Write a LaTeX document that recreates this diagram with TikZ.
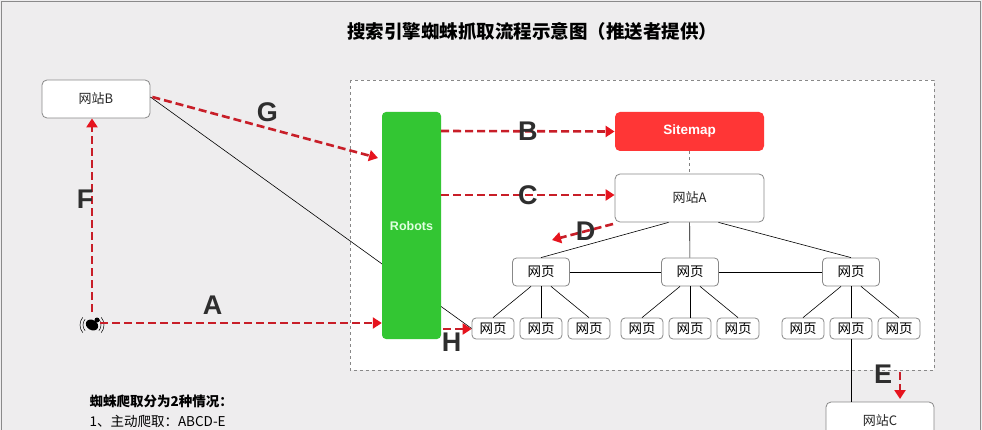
\documentclass[tikz,border=0pt]{standalone}
\usepackage{fontspec}
\setmainfont{Liberation Sans}
\newfontfamily\cjk{Noto Sans CJK SC}
\usepackage{tikz}
\usetikzlibrary{arrows.meta,positioning}

\definecolor{bg}{HTML}{EEEDEE}
\definecolor{frame}{HTML}{8A8A8A}
\definecolor{boxline}{HTML}{888888}
\definecolor{robotgreen}{HTML}{33C633}
\definecolor{mapred}{HTML}{FF3636}
\definecolor{crawlred}{HTML}{C81E28}
\definecolor{tipred}{HTML}{E6141E}
\definecolor{letter}{HTML}{2E2E2E}

\tikzset{
  site/.style={draw=boxline, line width=0.8pt, fill=white, rounded corners=5pt, inner sep=0pt,
    font=\cjk\fontsize{13}{13}\selectfont, text=black!85},
  page/.style={draw=boxline, line width=0.8pt, fill=white, rounded corners=4pt, inner sep=0pt,
    minimum width=57pt, minimum height=28pt, font=\cjk\fontsize{13.5}{13.5}\selectfont},
  leaf/.style={page, minimum width=42pt, minimum height=21pt},
  crawl/.style={draw=crawlred, line width=2.6pt, dash pattern=on 8pt off 4pt,
    -{Triangle[width=11pt,length=9pt,color=tipred]}},
  tag/.style={font=\bfseries\fontsize{27}{27}\selectfont, text=letter},
  link/.style={draw=black, line width=0.6pt}
}

\begin{document}
\begin{tikzpicture}[x=1pt, y=-1pt, node distance = 48pt]
\useasboundingbox (0,0) rectangle (982,430);
\fill[bg] (0,0) rectangle (982,430);
\draw[frame, line width=1pt] (1.5,440) -- (1.5,1.5) -- (980.5,1.5) -- (980.5,440);

\node[font=\cjk\bfseries\fontsize{18.5}{18.5}\selectfont] (title) at (532,31)
  {搜索引擎蜘蛛抓取流程示意图（推送者提供）};

% area of the site
\draw[boxline, dashed, fill=white] (350,80) rectangle (934,370);

\node[site, minimum width=108pt, minimum height=38pt] (site_b) at (96,99) {网站B};

% tree of pages
\node[site, minimum width=149pt, minimum height=48pt] (site_a) at (689.5,198) {网站A};
\node[site, draw=none, fill=mapred, minimum width=149pt, minimum height=39pt,
  font=\bfseries\fontsize{13.5}{13.5}\selectfont, text=white] (sitemap) at (689.5,131.5) {Sitemap};

\node[page] (p_1) at (541,272) {网页};
\node[page] (p_2) at (690,272) {网页};
\node[page] (p_3) at (851,272) {网页};

\node[leaf] (l_2) at (541,328.5) {网页};
\node[leaf] (l_1) [left of = l_2] {网页};
\node[leaf] (l_3) [right of = l_2] {网页};
\node[leaf] (l_5) at (690,328.5) {网页};
\node[leaf] (l_4) [left of = l_5] {网页};
\node[leaf] (l_6) [right of = l_5] {网页};
\node[leaf] (l_8) at (851,328.5) {网页};
\node[leaf] (l_7) [left of = l_8] {网页};
\node[leaf] (l_9) [right of = l_8] {网页};

\node[site, minimum width=108pt, minimum height=38pt] (site_c) at (880,421) {网站C};

% links between pages
\draw[gray, dashed, line width=0.5pt] (sitemap) -- (site_a);
\draw[link] (site_a.south) ++(-21,0) -- (p_1.north);
\draw[link] (site_a) -- (p_2);
\draw[link] (site_a.south) ++(29,0) -- (p_3.north);
\draw[link] (p_1) -- (p_2) -- (p_3);
\foreach \p/\a/\b/\c in {p_1/l_1/l_2/l_3, p_2/l_4/l_5/l_6, p_3/l_7/l_8/l_9} {
  \draw[link] (\p.south) ++(-10,0) -- (\a.north);
  \draw[link] (\p) -- (\b);
  \draw[link] (\p.south) ++(10,0) -- (\c.north);
}
\draw[link] (l_8) -- (site_c.north -| l_8);
\draw[link] (site_b.east) ++(0,-2) -- (l_1.west);

\node[fill=robotgreen, rounded corners=4pt, minimum width=59pt, minimum height=227pt] (robots) at (411.5,225.5) {};
\node[font=\bfseries\fontsize{12.5}{12.5}\selectfont, text=green!12!white] (robots_text) at (411.5,226) {Robots};

% the spider
\coordinate (spider) at (92,325);
\begin{scope}[line width=0.5pt]
  \foreach \r in {9,12} {
    \draw (spider) ++(140:\r) arc[start angle=140, end angle=220, radius=\r];
    \draw (spider) ++(-40:\r) arc[start angle=-40, end angle=40, radius=\r];
  }
  \fill[rotate around={-30:(spider)}] (spider) ellipse (6.5pt and 5pt);
  \fill (97,320) circle (2.5pt);
\end{scope}

% crawling paths
\draw[crawl] (92,312) -- node [tag, pos=0.58, xshift=-7pt] {F} (site_b.south -| 92,0);
\draw[crawl] (100,323) -- node [tag, above=4pt, pos=0.4] {A} (robots.west |- 0,323);
\draw[crawl] (site_b.east) ++(2,-2) -- node [tag, above=2pt, pos=0.51] {G} (378,158);
\draw[crawl] (robots.east |- 0,131) -- node [tag] {B} (sitemap.west);
\draw[crawl] (robots.east |- 0,195) -- node [tag] {C} (site_a.west |- 0,195);
\draw[crawl] (613,224) -- node [tag, pos=0.45] {D} (552,240);
\draw[crawl] (443,329) -- node [tag, below=-1pt, pos=0.3] {H} (l_1.west |- 0,329);
\draw[crawl] (900,372) -- node [tag, pos=0.1, xshift=-17pt] {E} (900,399);

% notes
\node[font=\cjk\bfseries\fontsize{13.5}{13.5}\selectfont, anchor=west] (note_1) at (86,401) {蜘蛛爬取分为2种情况：};
\node[font=\cjk\fontsize{13.5}{13.5}\selectfont, anchor=west] (note_2) at (86,421) {1、主动爬取：ABCD-E};
\end{tikzpicture}
\end{document}
